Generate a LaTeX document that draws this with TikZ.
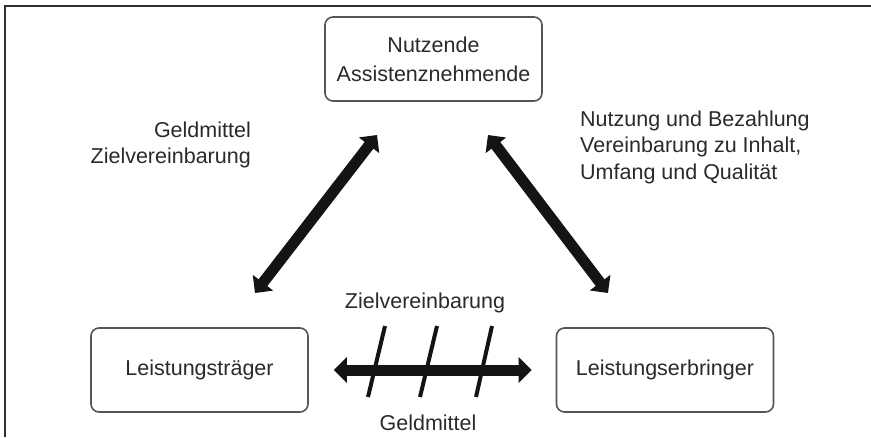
\documentclass[tikz,border=0pt]{standalone}
\usepackage{fontspec}
\setmainfont{Liberation Sans}
\usetikzlibrary{arrows.meta}
\definecolor{txt}{HTML}{2A2A2A}
\definecolor{boxline}{HTML}{555555}
\definecolor{framecol}{HTML}{303030}
\tikzset{
  party/.style={draw=boxline, line width=1.6pt, rounded corners=8pt,
    minimum width=217pt, minimum height=84pt, inner sep=0pt,
    align=center, text=txt, font=\fontsize{21.5}{29}\selectfont},
  lbl/.style={text=txt, inner sep=0pt, font=\fontsize{21.5}{26.5}\selectfont},
  flow/.style={draw=black!92, line width=11pt,
    {Triangle[length=13pt,width=25pt]}-{Triangle[length=13pt,width=25pt]}},
  tick/.style={draw=black!92, line width=4pt}
}
\begin{document}
\begin{tikzpicture}[x=1pt, y=-1pt]
  \useasboundingbox (0,0) rectangle (871,437);
  % open frame: top and left edges
  \draw[framecol, line width=2pt] (5,437) -- (5,5.5) -- (871,5.5);

  % the three parties
  \node[party] (N) at (433.5,59) {Nutzende\\Assistenznehmende};
  \node[party] (T) at (199.5,370) {Leistungsträger};
  \node[party] (E) at (665,370) {Leistungserbringer};

  % end points of the diagonal connectors
  \coordinate (tl) at (255,293);
  \coordinate (nl) at (377,135);
  \coordinate (nr) at (488,135);
  \coordinate (er) at (608,293);

  % relations
  \draw[flow] (tl) -- (nl);
  \draw[flow] (nr) -- (er);
  \draw[flow, shorten <=25pt, shorten >=24pt] (T.east) -- (E.west);

  % crossing strokes on the lower relation
  \draw[tick] (385,326) -- (368,397);
  \draw[tick] (437,326) -- (420,397);
  \draw[tick] (492,326) -- (476,397);

  % labels
  \node[lbl, anchor=east, align=right] (lblL) at (251,145) {Geldmittel\\Zielvereinbarung};
  \node[lbl, anchor=west, align=left] (lblR) at (580,147)
    {Nutzung und Bezahlung\\Vereinbarung zu Inhalt,\\Umfang und Qualität};
  \node[lbl] (lblTop) at (425,303) {Zielvereinbarung};
  \node[lbl] (lblBot) at (428,423) {Geldmittel};
\end{tikzpicture}
\end{document}
